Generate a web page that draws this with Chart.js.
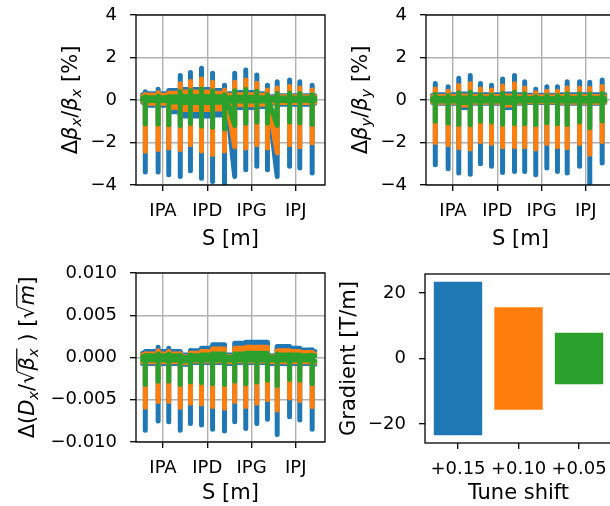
<!DOCTYPE html>
<html>
<head>
<meta charset="utf-8">
<script src="https://cdn.jsdelivr.net/npm/chart.js@4.4.1/dist/chart.umd.min.js"></script>
<style>
html, body { margin: 0; padding: 0; background: #fff; }
#wrap { position: relative; width: 610px; height: 506px; overflow: hidden; }
canvas { position: absolute; }
</style>
</head>
<body>
<div id="wrap">
  <canvas id="bx" width="330" height="252" style="left:0px;top:0px"></canvas>
  <canvas id="by" width="310" height="252" style="left:305px;top:0px"></canvas>
  <canvas id="dx" width="330" height="248" style="left:0px;top:258px"></canvas>
  <canvas id="grad" width="310" height="248" style="left:305px;top:258px"></canvas>
</div>
<script>
// S axis: positions in units of IP spacing (IPA = 1)
const sTicks = [1, 2, 3, 4];
const sLabels = ['IPA', 'IPD', 'IPG', 'IPJ'];
const sMin = 0.39, sMax = 4.66;
const sStart = 0.54, sEnd = 4.43;
// locations of the spikes along the ring
const sPos = [0.60, 0.89, 1.13, 1.39, 1.62, 1.87, 2.12, 2.39, 2.62, 2.87, 3.12, 3.36, 3.58, 3.86, 4.09, 4.37];

const colors = ['#1f77b4', '#ff7f0e', '#2ca02c'];

// beta-beating x [%]
const bxTicks = [-4, -2, 0, 2, 4];
const bxBlueHi = [0.39, 0.51, 0.35, 1.15, 1.30, 1.49, 1.26, 0.70, 1.26, 1.41, 1.18, 0.70, 0.86, 0.94, 0.86, 0.70];
const bxBlueLo = [-3.39, -3.39, -3.52, -3.60, -3.33, -3.68, -3.84, -4.10, -3.60, -3.28, -3.12, -3.28, -3.60, -3.12, -3.20, -3.44];
const bxBlueBandHi = [0.25, 0.30, 0.30, 0.45, 0.50, 0.50, 0.50, 0.45, 0.30, 0.35, 0.35, 0.30, 0.15, 0.20, 0.20, 0.20, 0.20];
const bxBlueBandLo = [-0.10, -0.25, -0.25, -0.55, -0.75, -0.75, -0.75, -0.70, -0.30, -0.35, -0.35, -0.30, -0.15, -0.20, -0.20, -0.20, -0.15];
const bxOrangeHi = [0.26, 0.34, 0.23, 0.77, 0.87, 0.99, 0.84, 0.47, 0.84, 0.94, 0.79, 0.47, 0.57, 0.63, 0.57, 0.47];
const bxOrangeLo = [-2.41, -2.33, -2.26, -2.33, -2.10, -2.40, -2.57, -2.40, -2.20, -2.26, -2.10, -2.26, -2.49, -2.10, -2.20, -2.02];
const bxOrangeBandHi = [0.18, 0.22, 0.22, 0.32, 0.38, 0.38, 0.38, 0.32, 0.22, 0.25, 0.25, 0.22, 0.10, 0.15, 0.15, 0.15, 0.15];
const bxOrangeBandLo = [-0.05, -0.15, -0.15, -0.35, -0.45, -0.45, -0.45, -0.42, -0.20, -0.22, -0.22, -0.20, -0.10, -0.12, -0.12, -0.12, -0.10];
const bxGreenHi = [0.15, 0.19, 0.14, 0.40, 0.45, 0.52, 0.44, 0.25, 0.44, 0.49, 0.41, 0.25, 0.31, 0.33, 0.31, 0.25];
const bxGreenLo = [-1.13, -1.13, -1.17, -1.20, -1.11, -1.23, -1.28, -1.37, -1.20, -1.09, -1.04, -1.09, -1.20, -1.04, -1.07, -1.15];
const bxGreenBandHi = [0.10, 0.11, 0.11, 0.15, 0.17, 0.17, 0.17, 0.15, 0.11, 0.13, 0.13, 0.11, 0.07, 0.09, 0.09, 0.09, 0.09];
const bxGreenBandLo = [0.01, -0.02, -0.02, -0.09, -0.12, -0.12, -0.12, -0.11, -0.05, -0.05, -0.05, -0.05, -0.01, -0.02, -0.02, -0.02, -0.01];
const bxRampFrom = { 8: 2.45, 12: 3.38 };

// beta-beating y [%]
const byBlueHi = [0.78, 0.62, 1.02, 1.15, 0.78, 0.70, 0.99, 1.15, 0.86, 0.51, 0.62, 0.62, 0.86, 0.86, 0.83, 0.94];
const byBlueLo = [-3.05, -3.24, -3.44, -3.49, -3.00, -3.12, -3.41, -3.36, -3.36, -3.52, -3.20, -3.36, -3.44, -3.12, -3.95, -2.97];
const byBlueBandHi = [0.22, 0.25, 0.25, 0.28, 0.25, 0.25, 0.25, 0.28, 0.25, 0.22, 0.22, 0.22, 0.25, 0.25, 0.25, 0.25, 0.25];
const byBlueBandLo = [-0.12, -0.15, -0.15, -0.35, -0.15, -0.15, -0.15, -0.35, -0.15, -0.12, -0.12, -0.12, -0.15, -0.15, -0.15, -0.15, -0.12];
const byOrangeHi = [0.52, 0.41, 0.68, 0.77, 0.52, 0.47, 0.66, 0.77, 0.57, 0.34, 0.41, 0.41, 0.57, 0.57, 0.55, 0.63];
const byOrangeLo = [-2.00, -2.10, -2.25, -2.30, -1.95, -2.05, -2.20, -2.20, -2.20, -2.30, -2.05, -2.20, -2.25, -2.05, -2.55, -1.95];
const byOrangeBandHi = [0.15, 0.17, 0.17, 0.19, 0.17, 0.17, 0.17, 0.19, 0.17, 0.15, 0.15, 0.15, 0.17, 0.17, 0.17, 0.17, 0.17];
const byOrangeBandLo = [-0.08, -0.10, -0.10, -0.23, -0.10, -0.10, -0.10, -0.23, -0.10, -0.08, -0.08, -0.08, -0.10, -0.10, -0.10, -0.10, -0.08];
const byGreenHi = [0.26, 0.21, 0.34, 0.38, 0.26, 0.23, 0.33, 0.38, 0.29, 0.17, 0.21, 0.21, 0.29, 0.29, 0.28, 0.31];
const byGreenLo = [-1.00, -1.08, -1.15, -1.16, -1.00, -1.04, -1.14, -1.12, -1.12, -1.17, -1.07, -1.12, -1.15, -1.04, -1.30, -0.99];
const byGreenBandHi = [0.07, 0.08, 0.08, 0.09, 0.08, 0.08, 0.08, 0.09, 0.08, 0.07, 0.07, 0.07, 0.08, 0.08, 0.08, 0.08, 0.08];
const byGreenBandLo = [-0.04, -0.05, -0.05, -0.12, -0.05, -0.05, -0.05, -0.12, -0.05, -0.04, -0.04, -0.04, -0.05, -0.05, -0.05, -0.05, -0.04];

// normalised dispersion beating [sqrt(m)]
const dxTicks = [-0.010, -0.005, 0.000, 0.005, 0.010];
const dxBlueHi = [0.0006, 0.0012, 0.0011, 0.0006, 0.0008, 0.0010, 0.0013, 0.0008, 0.0010, 0.0008, 0.0008, 0.0006, 0.0011, 0.0010, 0.0008, 0.0009];
const dxBlueLo = [-0.0086, -0.0075, -0.0076, -0.0086, -0.0078, -0.0080, -0.0085, -0.0087, -0.0076, -0.0084, -0.0078, -0.0073, -0.0091, -0.0070, -0.0074, -0.0085];
const dxBlueBandHi = [0.0005, 0.0007, 0.0007, 0.0007, 0.0003, 0.0008, 0.0011, 0.0015, 0.0003, 0.0017, 0.0018, 0.0018, 0.0002, 0.0013, 0.0011, 0.0009, 0.0007];
const dxBlueBandLo = [-0.0007, -0.0007, -0.0007, -0.0007, -0.0008, -0.0006, -0.0006, -0.0006, -0.0007, -0.0006, -0.0006, -0.0006, -0.0007, -0.0007, -0.0007, -0.0007, -0.0008];
const dxOrangeHi = [0.0004, 0.0008, 0.0007, 0.0004, 0.0005, 0.0007, 0.0009, 0.0005, 0.0007, 0.0005, 0.0005, 0.0004, 0.0007, 0.0007, 0.0005, 0.0006];
const dxOrangeLo = [-0.0059, -0.0052, -0.0052, -0.0059, -0.0054, -0.0055, -0.0058, -0.0060, -0.0052, -0.0058, -0.0054, -0.0050, -0.0062, -0.0048, -0.0051, -0.0058];
const dxOrangeBandHi = [0.0003, 0.0004, 0.0004, 0.0004, 0.0001, 0.0005, 0.0007, 0.0010, 0.0001, 0.0011, 0.0012, 0.0012, 0.0001, 0.0008, 0.0007, 0.0006, 0.0004];
const dxOrangeBandLo = [-0.0005, -0.0005, -0.0005, -0.0005, -0.0006, -0.0004, -0.0004, -0.0004, -0.0005, -0.0004, -0.0004, -0.0004, -0.0005, -0.0005, -0.0005, -0.0005, -0.0006];
const dxGreenHi = [0.0002, 0.0004, 0.0004, 0.0002, 0.0003, 0.0003, 0.0004, 0.0003, 0.0003, 0.0003, 0.0003, 0.0002, 0.0004, 0.0003, 0.0003, 0.0003];
const dxGreenLo = [-0.0032, -0.0028, -0.0028, -0.0032, -0.0029, -0.0030, -0.0031, -0.0032, -0.0028, -0.0031, -0.0029, -0.0027, -0.0033, -0.0026, -0.0027, -0.0031];
const dxGreenBandHi = [0.0001, 0.0002, 0.0002, 0.0002, 0.0000, 0.0002, 0.0003, 0.0004, 0.0000, 0.0004, 0.0005, 0.0005, 0.0000, 0.0003, 0.0003, 0.0002, 0.0002];
const dxGreenBandLo = [-0.0003, -0.0003, -0.0003, -0.0003, -0.0004, -0.0003, -0.0003, -0.0003, -0.0003, -0.0003, -0.0003, -0.0003, -0.0003, -0.0003, -0.0003, -0.0003, -0.0004];

// quadrupole gradient range per tune shift
const tuneShift = ['+0.15', '+0.10', '+0.05'];
const gradLo = [-23.5, -15.7, -7.9];
const gradHi = [23.5, 15.7, 7.9];
const gradTicks = [-20, 0, 20];

const tickSize = 18, titleSize = 21;

Chart.defaults.font.family = '"DejaVu Sans", sans-serif';
Chart.defaults.color = '#000';

function minusFmt(v) {
    return v < 0 ? '\u2212' + (-v) : String(v);
}

function drawRich(ctx, parts, cx, cy, size) {
    ctx.save();
    ctx.translate(cx, cy);
    ctx.rotate(-Math.PI / 2);
    const items = parts.map(p => {
        const s = p.sub ? size * 0.7 : size;
        const font = (p.it ? 'italic ' : '') + s + 'px "DejaVu Sans"';
        ctx.font = font;
        return { p: p, font: font, w: ctx.measureText(p.t).width };
    });
    const total = items.reduce((t, it) => t + it.w, 0);
    let x = -total / 2;
    const base = size * 0.36;
    ctx.fillStyle = '#000';
    ctx.strokeStyle = '#000';
    ctx.lineWidth = 1.2;
    ctx.textBaseline = 'alphabetic';
    items.forEach(it => {
        ctx.font = it.font;
        ctx.fillText(it.p.t, x, base + (it.p.sub ? size * 0.22 : 0));
        if (it.p.bar) {
            ctx.beginPath();
            ctx.moveTo(x - 0.5, base - size * 0.8);
            ctx.lineTo(x + it.w, base - size * 0.8);
            ctx.stroke();
        }
        x += it.w;
    });
    ctx.restore();
}

const framePlugin = {
    id: 'frame',
    afterDatasetsDraw(chart) {
        const { ctx, chartArea: a } = chart;
        ctx.save();
        ctx.strokeStyle = '#000';
        ctx.lineWidth = 1.3;
        ctx.strokeRect(a.left, a.top, a.right - a.left, a.bottom - a.top);
        ctx.restore();
    }
};
const richTitlePlugin = {
    id: 'richTitle',
    afterDraw(chart, args, opts) {
        if (!opts || !opts.parts) return;
        const a = chart.chartArea;
        drawRich(chart.ctx, opts.parts, a.left - opts.dx, (a.top + a.bottom) / 2, opts.size);
    }
};
Chart.register(framePlugin, richTitlePlugin);

// fixed axis box sizes, no extra label padding, so the frames land where they should
function fixSize(prop, px) {
    return sc => {
        sc[prop] = px;
        sc.paddingTop = 0;
        sc.paddingBottom = 0;
        sc.paddingLeft = 0;
        sc.paddingRight = 0;
    };
}

function bandPoints(levels) {
    const edges = [sStart, ...sPos, sEnd];
    const pts = [];
    levels.forEach((v, k) => {
        pts.push({ x: edges[k], y: v }, { x: edges[k + 1], y: v });
    });
    return pts;
}

function spikePoints(hi, lo, bandLo, ramps) {
    const pts = [];
    sPos.forEach((s, i) => {
        if (ramps && ramps[i] !== undefined) {
            pts.push({ x: ramps[i], y: bandLo[i] });
        }
        pts.push({ x: s, y: lo[i] }, { x: s, y: hi[i] }, { x: s, y: null });
    });
    return pts;
}

function axisGrid(onArea) {
    return { drawOnChartArea: onArea, color: '#b0b0b0', lineWidth: 1.4, tickColor: '#000', tickWidth: 1.3, tickLength: 6 };
}

function linePanel(id, o) {
    const datasets = [];
    o.series.forEach((s, k) => {
        const base = {
            borderColor: colors[k], backgroundColor: colors[k], borderWidth: 5,
            pointRadius: 0, pointHoverRadius: 0, order: 3 - k, clip: 0,
            borderJoinStyle: 'round', borderCapStyle: 'round', tension: 0
        };
        datasets.push(Object.assign({}, base, { data: bandPoints(s.bandHi), fill: '+1' }));
        datasets.push(Object.assign({}, base, { data: bandPoints(s.bandLo), fill: false }));
        datasets.push(Object.assign({}, base, { data: spikePoints(s.hi, s.lo, s.bandLo, o.ramps), fill: false, spanGaps: false }));
    });
    return new Chart(document.getElementById(id), {
        type: 'line',
        data: { datasets: datasets },
        options: {
            responsive: false,
            animation: false,
            events: [],
            layout: { padding: { top: o.top, right: o.right, left: 0, bottom: 0 } },
            plugins: {
                legend: { display: false },
                tooltip: { enabled: false },
                richTitle: { parts: o.title, dx: o.titleDx, size: titleSize }
            },
            scales: {
                x: {
                    type: 'linear', min: sMin, max: sMax,
                    afterBuildTicks: sc => { sc.ticks = sTicks.map(v => ({ value: v })); },
                    afterFit: fixSize('height', o.xAxisH),
                    ticks: { autoSkip: false, maxRotation: 0, padding: 10, font: { size: tickSize }, callback: v => sLabels[sTicks.indexOf(v)] },
                    grid: axisGrid(true),
                    border: { display: false },
                    title: { display: true, text: 'S [m]', font: { size: titleSize }, padding: { top: 0, bottom: 0 } }
                },
                y: {
                    min: o.yTicks[0], max: o.yTicks[o.yTicks.length - 1],
                    afterBuildTicks: sc => { sc.ticks = o.yTicks.map(v => ({ value: v })); },
                    afterFit: fixSize('width', o.yAxisW),
                    ticks: { padding: 13, font: { size: tickSize }, callback: o.yFmt },
                    grid: axisGrid(true),
                    border: { display: false }
                }
            }
        }
    });
}

linePanel('bx', {
    top: 15, right: 5, xAxisH: 67, yAxisW: 136, yTicks: bxTicks, yFmt: minusFmt, ramps: bxRampFrom,
    title: [{ t: 'Δ' }, { t: 'β', it: 1 }, { t: 'x', it: 1, sub: 1 }, { t: '/' }, { t: 'β', it: 1 }, { t: 'x', it: 1, sub: 1 }, { t: ' [%]' }],
    titleDx: 67,
    series: [
        { hi: bxBlueHi, lo: bxBlueLo, bandHi: bxBlueBandHi, bandLo: bxBlueBandLo },
        { hi: bxOrangeHi, lo: bxOrangeLo, bandHi: bxOrangeBandHi, bandLo: bxOrangeBandLo },
        { hi: bxGreenHi, lo: bxGreenLo, bandHi: bxGreenBandHi, bandLo: bxGreenBandLo }
    ]
});

linePanel('by', {
    top: 15, right: 0, xAxisH: 67, yAxisW: 121, yTicks: bxTicks, yFmt: minusFmt, ramps: null,
    title: [{ t: 'Δ' }, { t: 'β', it: 1 }, { t: 'y', it: 1, sub: 1 }, { t: '/' }, { t: 'β', it: 1 }, { t: 'y', it: 1, sub: 1 }, { t: ' [%]' }],
    titleDx: 67,
    series: [
        { hi: byBlueHi, lo: byBlueLo, bandHi: byBlueBandHi, bandLo: byBlueBandLo },
        { hi: byOrangeHi, lo: byOrangeLo, bandHi: byOrangeBandHi, bandLo: byOrangeBandLo },
        { hi: byGreenHi, lo: byGreenLo, bandHi: byGreenBandHi, bandLo: byGreenBandLo }
    ]
});

linePanel('dx', {
    top: 15, right: 5, xAxisH: 64, yAxisW: 136, yTicks: dxTicks, ramps: null,
    yFmt: v => (v < 0 ? '\u2212' : '') + Math.abs(v).toFixed(3),
    title: [{ t: 'Δ(' }, { t: 'D', it: 1 }, { t: 'x', it: 1, sub: 1 }, { t: '/' }, { t: '√' }, { t: 'β', it: 1, bar: 1 }, { t: 'x', it: 1, sub: 1, bar: 1 },
            { t: ' )' }, { t: ' [' }, { t: '√' }, { t: 'm', it: 1, bar: 1 }, { t: ']' }],
    titleDx: 110,
    series: [
        { hi: dxBlueHi, lo: dxBlueLo, bandHi: dxBlueBandHi, bandLo: dxBlueBandLo },
        { hi: dxOrangeHi, lo: dxOrangeLo, bandHi: dxOrangeBandHi, bandLo: dxOrangeBandLo },
        { hi: dxGreenHi, lo: dxGreenLo, bandHi: dxGreenBandHi, bandLo: dxGreenBandLo }
    ]
});

new Chart(document.getElementById('grad'), {
    type: 'bar',
    data: {
        datasets: [{
            data: tuneShift.map((t, i) => ({ x: i, y: [gradLo[i], gradHi[i]] })),
            backgroundColor: colors,
            borderWidth: 0,
            categoryPercentage: 1,
            barPercentage: 0.8
        }]
    },
    options: {
        responsive: false,
        animation: false,
        events: [],
        layout: { padding: { top: 16, right: 3, left: 0, bottom: 0 } },
        plugins: {
            legend: { display: false },
            tooltip: { enabled: false },
            richTitle: { parts: [{ t: 'Gradient [T/m]' }], dx: 78, size: titleSize }
        },
        scales: {
            x: {
                type: 'linear', min: -0.545, max: 2.545, offset: false,
                afterBuildTicks: sc => { sc.ticks = tuneShift.map((t, i) => ({ value: i })); },
                afterFit: fixSize('height', 63),
                ticks: { autoSkip: false, maxRotation: 0, padding: 10, font: { size: tickSize }, callback: v => tuneShift[v] },
                grid: Object.assign(axisGrid(false), { offset: false }),
                border: { display: false },
                title: { display: true, text: 'Tune shift', font: { size: titleSize }, padding: { top: 0, bottom: 0 } }
            },
            y: {
                min: -25.85, max: 25.85,
                afterBuildTicks: sc => { sc.ticks = gradTicks.map(v => ({ value: v })); },
                afterFit: fixSize('width', 120),
                ticks: { padding: 13, font: { size: tickSize }, callback: minusFmt },
                grid: axisGrid(false),
                border: { display: false }
            }
        }
    }
});
</script>
</body>
</html>
